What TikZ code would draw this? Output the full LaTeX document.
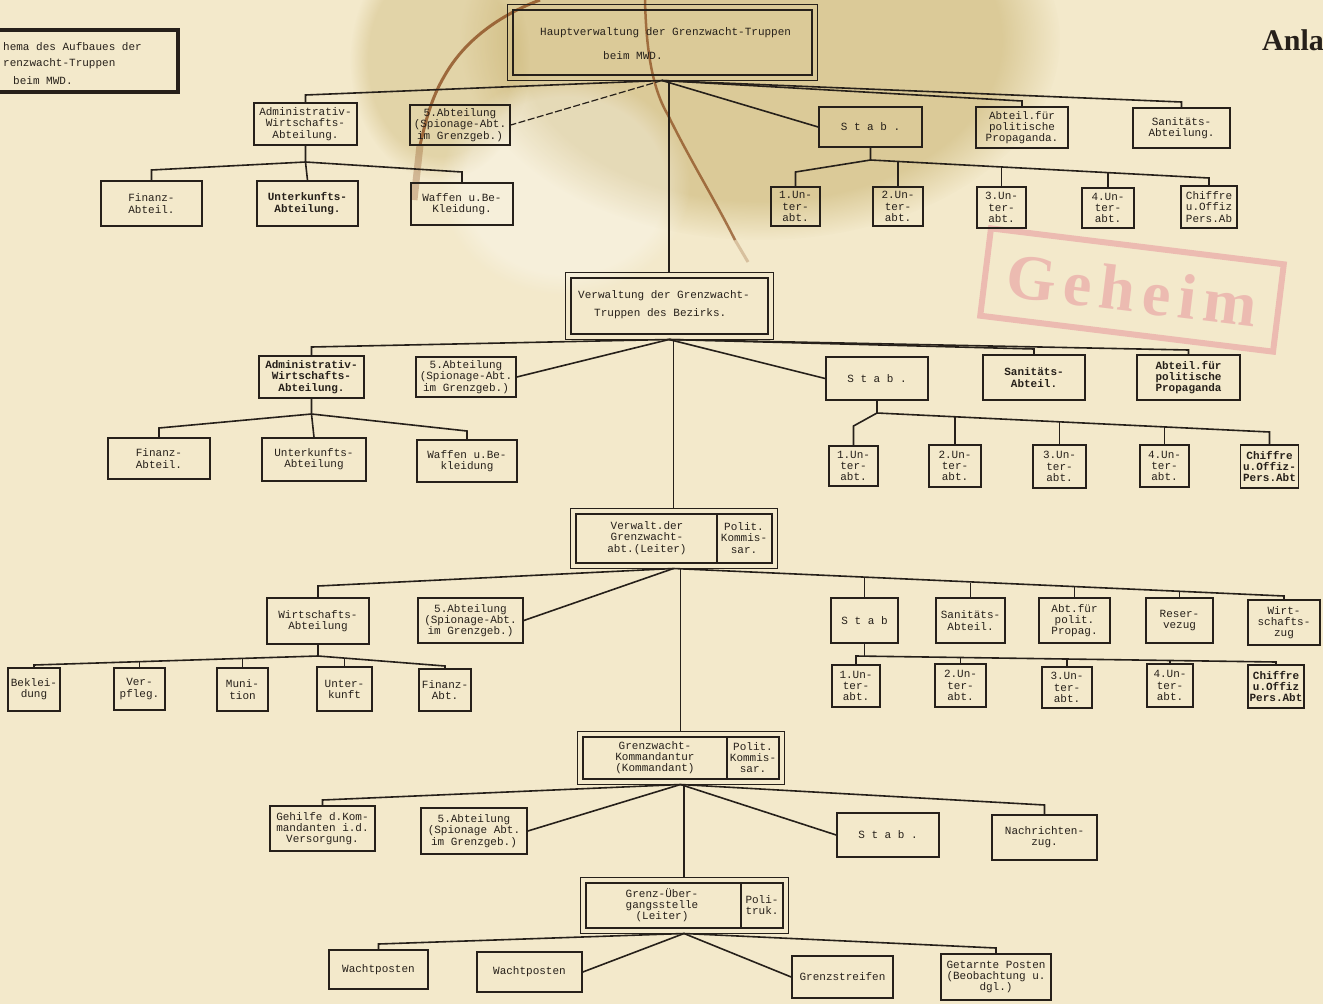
\documentclass[tikz,border=0pt]{standalone}
\usepackage{fontspec}
\usetikzlibrary{fadings}
\newfontfamily\tw{Liberation Mono}
\newfontfamily\ser{Liberation Serif}
\definecolor{paper}{RGB}{243,233,203}
\definecolor{ink}{RGB}{38,32,26}
\definecolor{stain}{RGB}{135,70,25}
\definecolor{wash}{RGB}{190,165,90}
\definecolor{pinkst}{RGB}{226,120,140}
\newcommand\bxn[6]{\node[bx,minimum width=#4pt,minimum height=#5pt] (#1) at (#2,#3) {#6};}
\newcommand\dbox[5]{%
  \node[draw=ink,line width=1pt,minimum width=#4pt,minimum height=#5pt,inner sep=0pt] (#1) at (#2,#3) {};
  \draw[ink,line width=2pt] ([shift={(6,6)}]#1.north west) rectangle ([shift={(-6,-6)}]#1.south east);}
\begin{document}
\begin{tikzpicture}[x=1pt,y=-1pt,
  bx/.style={draw=ink,line width=1.6pt,align=center,font=\tw\fontsize{11}{11.2}\selectfont,text=ink,inner sep=1pt},
  bxb/.style={bx,font=\tw\bfseries\fontsize{11}{11.2}\selectfont},
  tx/.style={align=center,font=\tw\fontsize{11}{11.2}\selectfont,text=ink,inner sep=0pt},
  ln/.style={draw=ink,line width=1.6pt},
  vln/.style={draw=ink,line width=1.1pt},
  dln/.style={draw=ink,line width=1.2pt,dash pattern=on 7pt off 2.5pt}]
\fill[paper] (0,0) rectangle (1323,1004);
\useasboundingbox (0,0) rectangle (1323,1004);
\clip (0,0) rectangle (1323,1004);
% paper staining
\fill[wash,opacity=0.45,path fading=circle with fuzzy edge 20 percent] (760,40) ellipse (300 and 200);
\fill[wash,opacity=0.3,path fading=circle with fuzzy edge 20 percent] (440,60) ellipse (90 and 120);
\fill[white,opacity=0.3,path fading=circle with fuzzy edge 20 percent] (565,185) ellipse (125 and 110);
\draw[stain,opacity=0.75,line width=3pt] (540,0) .. controls (500,15) and (465,40) .. (445,75) .. controls (430,100) and (425,125) .. (420,145);
\draw[stain,opacity=0.3,line width=7pt] (420,145) -- (414,200);
\draw[stain,opacity=0.7,line width=2.5pt] (645,0) .. controls (646,40) and (650,85) .. (668,115) .. controls (690,160) and (715,200) .. (735,240);
\draw[stain,opacity=0.25,line width=3pt] (735,240) -- (748,262);

% title box
\node[draw=ink,line width=3.5pt,minimum width=198pt,minimum height=62pt,inner sep=0pt] (T) at (79,61) {};
\node[tx,anchor=west] (T1) at (3,47) {hema des Aufbaues der};
\node[tx,anchor=west] (T2) at (3,64) {renzwacht-Truppen};
\node[tx,anchor=west] (T3) at (13,81) {beim MWD.};
\node[anchor=west,font=\ser\bfseries\fontsize{30}{30}\selectfont,text=ink,inner sep=0pt] (anl) at (1262,40) {Anla};
\node[draw=pinkst,line width=6pt,rotate=-7,minimum width=295pt,minimum height=88pt,text=pinkst,
      font=\ser\bfseries\fontsize{64}{64}\selectfont\addfontfeature{LetterSpace=12},opacity=0.4] (stamp) at (1132,290) {Geheim};

% ===== level 1 =====
\dbox{H1}{662}{42}{310}{76}
\node[tx,anchor=west] (H1a) at (540,33) {Hauptverwaltung der Grenzwacht-Truppen};
\node[tx,anchor=west] (H1b) at (603,56) {beim MWD.};
\bxn{A1}{305.5}{124}{103}{42}{Administrativ-\\Wirtschafts-\\Abteilung.}
\bxn{S1}{460}{125}{100}{40}{5.Abteilung\\(Spionage-Abt.\\im Grenzgeb.)}
\bxn{Stab1}{870.5}{127}{103}{40}{S t a b .}
\bxn{P1}{1022}{127.5}{92}{41}{Abteil.für\\politische\\Propaganda.}
\bxn{San1}{1181.5}{128}{97}{40}{Sanitäts-\\Abteilung.}
\bxn{F1}{151.5}{203.5}{101}{45}{Finanz-\\Abteil.}
\node[bxb,minimum width=101pt,minimum height=45pt] (U1) at (307.5,203.5) {Unterkunfts-\\Abteilung.};
\bxn{W1}{462}{204}{102}{42}{Waffen u.Be-\\Kleidung.}
\bxn{u11}{795.5}{206.5}{49}{39}{1.Un-\\ter-\\abt.}
\bxn{u12}{898}{206.5}{50}{39}{2.Un-\\ter-\\abt.}
\bxn{u13}{1001.5}{207.5}{49}{41}{3.Un-\\ter-\\abt.}
\bxn{u14}{1108}{208}{52}{40}{4.Un-\\ter-\\abt.}
\bxn{c15}{1209}{207}{56}{42}{Chiffre\\u.Offiz\\Pers.Ab}

% ===== level 2 =====
\dbox{V2}{669}{305.5}{208}{67}
\node[tx,anchor=west] (V2a) at (578,296) {Verwaltung der Grenzwacht-};
\node[tx,anchor=west] (V2b) at (594,314) {Truppen des Bezirks.};
\node[bxb,minimum width=105pt,minimum height=42pt] (A2) at (311.5,377) {Administrativ-\\Wirtschafts-\\Abteilung.};
\bxn{S2}{466}{377}{100}{40}{5.Abteilung\\(Spionage-Abt.\\im Grenzgeb.)}
\bxn{Stab2}{877}{378.5}{102}{43}{S t a b .}
\node[bxb,minimum width=102pt,minimum height=45pt] (San2) at (1034,377.5) {Sanitäts-\\Abteil.};
\node[bxb,minimum width=103pt,minimum height=45pt] (P2) at (1188.5,377.5) {Abteil.für\\politische\\Propaganda};
\bxn{F2}{159}{458.5}{102}{41}{Finanz-\\Abteil.}
\bxn{U2}{314}{459.5}{104}{43}{Unterkunfts-\\Abteilung}
\bxn{W2}{467}{461}{100}{42}{Waffen u.Be-\\kleidung}
\bxn{u21}{853.5}{466}{49}{40}{1.Un-\\ter-\\abt.}
\bxn{u22}{955}{466}{52}{42}{2.Un-\\ter-\\abt.}
\bxn{u23}{1059.5}{466.5}{53}{43}{3.Un-\\ter-\\abt.}
\bxn{u24}{1164.5}{466}{49}{42}{4.Un-\\ter-\\abt.}
\node[bxb,minimum width=58pt,minimum height=43pt] (c25) at (1269.5,466.5) {Chiffre\\u.Offiz-\\Pers.Abt};

% ===== level 3 =====
\dbox{V3}{673.5}{538}{207}{60}
\draw[ink,line width=1.5pt] (717,514) -- (717,562);
\node[tx] (V3l) at (647,538) {Verwalt.der\\Grenzwacht-\\abt.(Leiter)};
\node[tx] (V3r) at (744,538) {Polit.\\Kommis-\\sar.};
\bxn{W3}{318}{621}{102}{46}{Wirtschafts-\\Abteilung}
\bxn{S3}{470.5}{620.5}{105}{45}{5.Abteilung\\(Spionage-Abt.\\im Grenzgeb.)}
\bxn{Stab3}{864.5}{620.5}{67}{45}{S t a b}
\bxn{San3}{970.5}{620.5}{69}{45}{Sanitäts-\\Abteil.}
\bxn{Pol3}{1074.5}{620.5}{71}{45}{Abt.für\\polit.\\Propag.}
\bxn{Res3}{1179.5}{620.5}{67}{45}{Reser-\\vezug}
\bxn{Wz3}{1284}{622.5}{72}{45}{Wirt-\\schafts-\\zug}
\bxn{u31}{856}{686}{48}{42}{1.Un-\\ter-\\abt.}
\bxn{u32}{960.5}{685.5}{51}{43}{2.Un-\\ter-\\abt.}
\bxn{u33}{1067}{687.5}{50}{41}{3.Un-\\ter-\\abt.}
\bxn{u34}{1170}{685.5}{46}{43}{4.Un-\\ter-\\abt.}
\node[bxb,minimum width=56pt,minimum height=43pt] (c35) at (1276,686.5) {Chiffre\\u.Offiz\\Pers.Abt};
\bxn{b31}{34}{689.5}{52}{43}{Beklei-\\dung}
\bxn{b32}{139.5}{689}{51}{42}{Ver-\\pfleg.}
\bxn{b33}{242.5}{689.5}{51}{43}{Muni-\\tion}
\bxn{b34}{344.5}{689}{55}{44}{Unter-\\kunft}
\bxn{b35}{445}{690}{52}{42}{Finanz-\\Abt.}

% ===== level 4 =====
\dbox{K4}{680.5}{757.5}{207}{53}
\draw[ink,line width=1.5pt] (727,737) -- (727,778);
\node[tx] (K4l) at (655,757.5) {Grenzwacht-\\Kommandantur\\(Kommandant)};
\node[tx] (K4r) at (753,757.5) {Polit.\\Kommis-\\sar.};
\bxn{G4}{322.5}{828.5}{105}{45}{Gehilfe d.Kom-\\mandanten i.d.\\Versorgung.}
\bxn{S4}{474}{831}{106}{46}{5.Abteilung\\(Spionage Abt.\\im Grenzgeb.)}
\bxn{Stab4}{888}{835}{102}{44}{S t a b .}
\bxn{N4}{1044.5}{837.5}{105}{45}{Nachrichten-\\zug.}

% ===== level 5 =====
\dbox{GU5}{684}{905}{208}{56}
\draw[ink,line width=1.5pt] (741,883) -- (741,927);
\node[tx] (G5l) at (662,905) {Grenz-Über-\\gangsstelle\\(Leiter)};
\node[tx] (G5r) at (762,905) {Poli-\\truk.};
\bxn{W5a}{378.5}{969.5}{99}{39}{Wachtposten}
\bxn{W5b}{529.5}{972}{105}{40}{Wachtposten}
\bxn{Gs5}{842.5}{977}{101}{42}{Grenzstreifen}
\bxn{Gp5}{996}{977}{110}{46}{Getarnte Posten\\(Beobachtung u.\\dgl.)}

% ===== connectors =====
% level 1
\coordinate (jA1) at (305.5,95);
\coordinate (jP1) at (1022,101);
\coordinate (jSa1) at (1181.5,102);
\draw[ln] (H1.south) -- (jA1) -- (A1.north);
\draw[dln] (H1.south) -- (S1.east);
\draw[vln] (H1.south -| V2.north) -- (V2.north);
\draw[ln] (H1.south) -- (Stab1.west);
\draw[ln] (H1.south) -- (jP1) -- (P1.north);
\draw[ln] (H1.south) -- (jSa1) -- (San1.north);
\coordinate (kA1) at (305.5,162);
\coordinate (kF1) at (151.5,170);
\coordinate (kW1) at (462,172);
\draw[ln] (A1.south) -- (kA1) -- (U1.north);
\draw[ln] (kA1) -- (kF1) -- (F1.north);
\draw[ln] (kA1) -- (kW1) -- (W1.north);
\coordinate (kS1) at (870.5,160);
\coordinate (k11) at (795.5,172);
\coordinate (k12) at (898,161.5);
\coordinate (k13) at (1001.5,167);
\coordinate (k14) at (1108,172.6);
\coordinate (k15) at (1209,178);
\draw[ln] (Stab1.south) -- (kS1) -- (k11) -- (u11.north);
\draw[ln] (kS1) -- (k15) -- (c15.north);
\draw[vln] (k12) -- (u12.north);
\draw[ln] (k13) -- (u13.north);
\draw[ln] (k14) -- (u14.north);
% level 2
\coordinate (jA2) at (311.5,347);
\coordinate (jSa2) at (1034,349);
\coordinate (jP2) at (1188.5,350);
\draw[ln] (V2.south) -- (jA2) -- (A2.north);
\draw[ln] (V2.south) -- (S2.east);
\draw[vln] (V2.south -| V3.north) -- (V3.north);
\draw[ln] (V2.south) -- (Stab2.west);
\draw[ln] (V2.south) -- (jSa2) -- (San2.north);
\draw[ln] (V2.south) -- (jP2) -- (P2.north);
\coordinate (kA2) at (311.5,414);
\coordinate (kF2) at (159,428);
\coordinate (kW2) at (467,431);
\draw[ln] (A2.south) -- (kA2) -- (U2.north);
\draw[ln] (kA2) -- (kF2) -- (F2.north);
\draw[ln] (kA2) -- (kW2) -- (W2.north);
\coordinate (kS2) at (877,413);
\coordinate (k21) at (853.5,426);
\coordinate (k22) at (955,416.8);
\coordinate (k23) at (1059.5,421.8);
\coordinate (k24) at (1164.5,426.9);
\coordinate (k25) at (1269.5,432);
\draw[ln] (Stab2.south) -- (kS2) -- (k21) -- (u21.north);
\draw[ln] (kS2) -- (k25) -- (c25.north);
\draw[ln] (k22) -- (u22.north);
\draw[ln] (k23) -- (u23.north);
\draw[ln] (k24) -- (u24.north);
% level 3
\coordinate (jW3) at (318,586);
\coordinate (j31) at (864.5,578);
\coordinate (j32) at (970.5,582.5);
\coordinate (j33) at (1074.5,587);
\coordinate (j34) at (1179.5,591.5);
\coordinate (j35) at (1284,596);
\draw[ln] (V3.south) -- (jW3) -- (W3.north);
\draw[ln] (V3.south) -- (S3.east);
\draw[vln] (V3.south -| K4.north) -- (K4.north);
\draw[ln] (V3.south) -- (j35) -- (Wz3.north);
\draw[ln] (j31) -- (Stab3.north);
\draw[ln] (j32) -- (San3.north);
\draw[ln] (j33) -- (Pol3.north);
\draw[ln] (j34) -- (Res3.north);
\coordinate (kS3) at (864.5,656);
\coordinate (k31) at (856,656);
\coordinate (k32) at (960.5,657.5);
\coordinate (k33) at (1067,659);
\coordinate (k34) at (1170,660.5);
\coordinate (k35) at (1276,662);
\draw[ln] (Stab3.south) -- (kS3);
\draw[ln] (u31.north) -- (k31) -- (k35) -- (c35.north);
\draw[ln] (k32) -- (u32.north);
\draw[ln] (k33) -- (u33.north);
\draw[ln] (k34) -- (u34.north);
\coordinate (kW3) at (318,656);
\coordinate (kb1) at (34,665);
\coordinate (kb2) at (139.5,661.7);
\coordinate (kb3) at (242.5,658.4);
\coordinate (kb4) at (344.5,658.1);
\coordinate (kb5) at (445,666);
\draw[ln] (W3.south) -- (kW3);
\draw[ln] (b31.north) -- (kb1) -- (kW3) -- (kb5) -- (b35.north);
\draw[vln] (kb2) -- (b32.north);
\draw[ln] (kb3) -- (b33.north);
\draw[ln] (kb4) -- (b34.north);
% level 4
\coordinate (jG4) at (322.5,800);
\coordinate (jN4) at (1044.5,805);
\draw[ln] (K4.south) -- (jG4) -- (G4.north);
\draw[ln] (K4.south) -- (S4.east);
\draw[ln] (K4.south) -- (Stab4.west);
\draw[ln] (K4.south) -- (jN4) -- (N4.north);
\draw[ln] (K4.south -| GU5.north) -- (GU5.north);
% level 5
\coordinate (jW5) at (378.5,944);
\coordinate (jGp) at (996,948);
\draw[ln] (GU5.south) -- (jW5) -- (W5a.north);
\draw[ln] (GU5.south) -- (W5b.east);
\draw[ln] (GU5.south) -- (Gs5.west);
\draw[ln] (GU5.south) -- (jGp) -- (Gp5.north);
\end{tikzpicture}
\end{document}
